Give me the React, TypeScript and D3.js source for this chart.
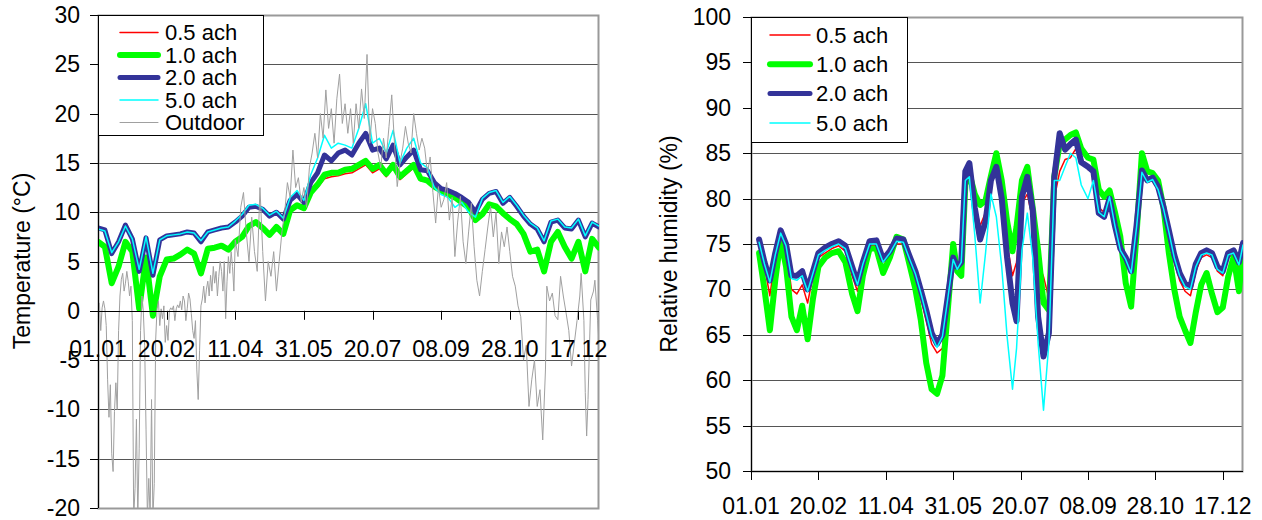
import React from "react";
import * as d3 from "d3";

// ---------- categories / ticks ----------
const xTickDays = [0, 50, 100, 150, 200, 250, 300, 350];
const xTickLabels = ["01.01", "20.02", "11.04", "31.05", "20.07", "08.09", "28.10", "17.12"];
const tempTicks = [-20, -15, -10, -5, 0, 5, 10, 15, 20, 25, 30];
const rhTicks = [50, 55, 60, 65, 70, 75, 80, 85, 90, 95, 100];
const tempLegend = ["0.5 ach", "1.0 ach", "2.0 ach", "5.0 ach", "Outdoor"];
const rhLegend = ["0.5 ach", "1.0 ach", "2.0 ach", "5.0 ach"];

// ---------- temperature (°C), every 5 days from 01.01 ----------
const tempDays = [
  0, 5, 10, 15, 20, 25, 30, 35, 40, 45, 50, 55, 60, 65, 70, 75, 80, 85, 90, 95,
  100, 105, 110, 115, 120, 125, 130, 135, 140, 145, 150, 155, 160, 165, 170, 175, 180, 185, 190, 195,
  200, 205, 210, 215, 220, 225, 230, 235, 240, 245, 250, 255, 260, 265, 270, 275, 280, 285, 290, 295,
  300, 305, 310, 315, 320, 325, 330, 335, 340, 345, 350, 355, 360, 365,
];
const temp05 = [
  7.0, 6.5, 2.8, 4.5, 7.0, 6.0, 0.2, 5.4, -0.5, 3.5,
  5.2, 5.3, 5.7, 6.2, 5.8, 3.8, 6.3, 6.4, 6.6, 6.2,
  7.0, 7.5, 8.6, 9.0, 8.4, 7.7, 8.5, 7.8, 10.2, 10.6,
  10.3, 11.8, 12.5, 13.4, 13.6, 13.7, 13.9, 14.0, 14.4, 14.8,
  14.0, 14.4, 13.6, 14.5, 13.3, 13.9, 14.5, 13.2, 13.2, 12.8,
  12.4, 12.3, 12.0, 11.5, 11.0, 9.8, 9.9, 10.9, 10.7, 10.0,
  9.4, 8.9, 7.9, 6.1, 6.3, 4.1, 7.1, 8.1, 6.6, 5.4,
  7.1, 4.1, 7.4, 6.5,
];
const temp10 = [
  7.0, 6.5, 2.8, 4.5, 7.0, 6.0, 0.2, 5.4, -0.5, 3.5,
  5.2, 5.3, 5.7, 6.2, 5.8, 3.8, 6.3, 6.4, 6.6, 6.2,
  7.0, 7.5, 8.6, 9.0, 8.4, 7.7, 8.5, 7.8, 10.2, 10.7,
  10.4, 12.0, 12.8, 13.8, 14.0, 14.0, 14.3, 14.4, 14.8, 15.2,
  14.4, 14.8, 13.9, 14.8, 13.6, 14.2, 14.8, 13.4, 13.2, 12.6,
  12.2, 11.8, 11.5, 11.0, 10.5, 9.2, 9.8, 10.8, 10.6, 9.9,
  9.3, 8.8, 7.8, 6.0, 6.2, 4.0, 7.0, 8.0, 6.5, 5.3,
  7.0, 4.0, 7.3, 6.4,
];
const temp20 = [
  8.4, 8.2, 5.8, 7.0, 8.7, 7.3, 4.0, 7.4, 3.6, 7.2,
  7.6, 7.7, 7.8, 8.0, 7.9, 7.0, 8.0, 8.2, 8.4, 8.5,
  9.0, 9.6, 10.5, 10.6, 10.3, 9.6, 10.0, 9.3, 11.2, 11.8,
  11.0, 13.0, 14.0, 15.8, 15.2, 16.0, 16.3, 15.8, 17.0, 18.0,
  16.3, 16.5, 15.4, 16.8, 14.8, 15.6, 16.3, 14.3, 14.2, 13.0,
  12.4, 12.2, 11.9, 11.5, 11.0, 10.0, 11.3, 11.9, 12.1, 10.9,
  11.5, 10.6, 9.6, 8.8, 8.3, 7.0, 9.0, 9.2, 8.4, 8.3,
  9.2, 7.5, 8.9, 8.5,
];
const temp50 = [
  8.3, 8.1, 5.9, 7.0, 8.6, 7.3, 4.2, 7.5, 3.8, 7.2,
  7.6, 7.7, 7.8, 8.0, 7.9, 7.1, 8.0, 8.2, 8.4, 8.5,
  9.1, 9.8, 10.7, 10.8, 10.4, 9.7, 10.1, 9.4, 11.5, 12.2,
  11.2, 13.8, 15.5, 17.8, 16.5, 17.0, 16.8, 16.5, 18.5, 21.0,
  17.0, 17.5, 16.0, 18.3, 15.0, 16.5, 17.5, 15.0, 14.5, 12.5,
  11.8, 11.5, 10.5, 11.0, 10.0, 9.5, 11.4, 12.0, 12.2, 11.0,
  11.6, 10.7, 9.7, 8.9, 8.4, 7.1, 9.1, 9.3, 8.5, 8.4,
  9.3, 7.6, 9.0, 8.6,
];

// ---------- outdoor temperature (°C) ----------
const outdoorDays = [
  ...d3.range(0, 101),
  ...d3.range(102, 327, 2),
  327, 329, 331, 333, 335, 337, 339, 341, 343, 345, 347, 349, 351, 352, 354, 355, 356, 357, 359, 361, 362, 364, 365,
];
const outdoorTemp = [
  // 0-100 daily
  0.5, 0.8, -2.0, 0.3, 1.0, 0.2, -1.5, -7.0, -10.8, -7.5,
  -14.5, -16.3, -10.2, -7.3, -10.0, -2.0, 1.5, 3.2, 3.8, 2.0,
  2.8, 4.0, 3.0, 1.5, 2.5, -1.0, -21.0, -18.0, -11.0, -21.0,
  -14.0, -2.0, 1.5, 0.0, -3.5, -12.0, -21.0, -17.0, -21.0, -9.0,
  -21.0, -17.5, -3.0, 0.2, 1.0, -1.5, 0.2, -0.8, 0.5, -3.2,
  -1.5, -3.0, 0.0, 0.3, 0.1, 0.5, -1.0, 0.2, 0.6, 0.3,
  1.0, 0.1, 1.5, 1.0, -1.0, 0.2, 1.8, 1.2, -0.3, -2.0,
  -2.8, -1.0, -6.0, -9.0, -4.0, 0.5, 1.2, 2.5, 0.8, 2.2,
  3.0, 1.5, 3.6, 2.0, 4.5, 2.8, 4.0, 1.5, 3.5, 5.0,
  4.0, 2.0, 5.0, -0.8, 3.0, 5.5, 3.8, 6.0, 4.5, 2.0,
  7.2,
  // 102-326 every 2 days
  5.5, 10.5, 12.0, 8.0, 5.0, 9.5, 6.0, 4.0, 12.5, 6.0,
  1.0, 5.0, 3.5, 6.0, 2.0, 5.0, 8.0, 10.0, 13.0, 11.5,
  16.3, 12.5, 13.5, 11.0, 12.5, 10.5, 14.5, 16.0, 18.0, 15.5,
  20.0, 17.5, 22.4, 18.5, 20.5, 17.0, 21.5, 24.0, 19.0, 21.0,
  18.0, 20.5, 17.0, 21.0, 18.5, 22.5, 19.5, 26.0, 17.0, 20.5,
  19.0, 16.0, 14.5, 17.5, 15.5, 18.7, 21.9, 17.0, 12.6, 15.0,
  16.5, 18.7, 17.0, 16.0, 20.0, 18.0, 16.3, 17.5, 16.5, 14.0,
  15.6, 12.0, 8.9, 12.6, 10.5, 11.3, 13.0, 9.2, 11.5, 5.5,
  9.0, 11.6, 7.0, 4.8, 8.0, 10.9, 6.5, 3.1, 1.5, 4.0,
  6.2, 8.5, 10.6, 7.5, 10.0, 4.8, 8.0, 6.5, 8.5, 6.0,
  3.5, 2.5, 0.5, -0.6, -5.0, -3.5, -9.7, -7.0, -5.0, -9.7,
  -8.0, -13.1, -6.0,
  // late
  2.5, 1.0, 1.8, -0.5, -0.9, 3.5, 1.5, -0.2, -2.0, -5.6, -3.3, -1.0, 1.5, 3.8, -1.0, -8.3, -12.7, -9.0, 1.1, 2.0, 3.1, -1.0, -3.3,
];

// ---------- relative humidity (%) ----------
const rhDays = [
  6, 10, 14, 18, 22, 26, 30, 34, 38, 42, 46, 50, 55, 60, 65, 70, 75, 79, 83, 88,
  93, 98, 103, 108, 113, 118, 122, 126, 130, 134, 138, 142, 146, 150, 153, 156, 159, 162, 166, 170,
  174, 178, 182, 186, 190, 194, 197, 201, 205, 209, 213, 217, 221, 225, 229, 233, 237, 241, 245, 250,
  254, 258, 262, 266, 270, 274, 278, 282, 286, 290, 294, 298, 302, 306, 310, 314, 318, 322, 326, 330,
  334, 338, 342, 346, 350, 354, 358, 362, 365,
];
const rh05 = [
  75.0, 72.5, 69.3, 73.5, 76.0, 74.5, 70.0, 69.5, 70.5, 68.5,
  71.5, 73.5, 74.0, 74.5, 74.8, 74.2, 71.5, 69.8, 72.5, 74.8,
  74.8, 72.5, 73.8, 75.0, 75.0, 73.0, 71.5, 69.0, 66.5, 64.0,
  63.0, 63.5, 68.8, 73.5, 72.3, 72.8, 82.5, 83.5, 79.5, 77.0,
  78.5, 82.0, 83.8, 80.5, 75.0, 71.5, 73.0, 79.5, 80.5, 77.6,
  73.0, 71.4, 69.0, 80.0, 83.0, 84.3, 84.5, 85.5, 84.5, 83.2,
  83.0, 79.0, 78.5, 80.2, 77.5, 75.0, 73.0, 71.8, 76.5, 82.8,
  81.8, 82.0, 81.0, 78.8, 76.0, 73.0, 71.0, 69.8, 69.3, 72.0,
  73.5, 73.8, 73.5, 72.0, 71.5, 73.6, 73.8, 72.5, 74.8,
];
const rh10 = [
  74.0, 70.0, 65.5, 71.0, 75.5, 72.5, 67.0, 65.5, 68.2, 64.5,
  69.0, 72.5, 73.5, 74.0, 74.2, 73.0, 69.5, 67.6, 71.5, 74.5,
  74.5, 71.8, 73.5, 75.8, 75.5, 72.5, 70.0, 66.6, 61.9, 59.0,
  58.5, 60.5, 67.7, 75.0, 72.0, 71.5, 81.5, 82.8, 80.5, 79.3,
  79.8, 82.5, 85.0, 82.0, 77.5, 74.2, 76.9, 82.0, 83.5, 79.0,
  74.3, 68.5, 67.7, 82.4, 86.0, 86.5, 87.0, 87.3, 85.5, 84.5,
  84.3, 81.0, 80.2, 80.9, 78.5, 75.8, 70.7, 68.1, 76.0, 85.0,
  83.0, 82.8, 82.0, 79.0, 74.0, 70.0, 67.0, 65.5, 64.1, 67.5,
  70.5, 71.8, 69.5, 67.5, 68.0, 71.4, 73.6, 69.8, 74.3,
];
const rh20 = [
  75.5, 73.0, 71.0, 74.0, 76.5, 75.0, 71.5, 71.5, 72.0, 70.0,
  72.0, 74.0, 74.6, 75.0, 75.3, 74.8, 72.5, 70.7, 73.0, 75.3,
  75.4, 73.3, 74.2, 75.6, 75.5, 73.5, 72.0, 69.9, 67.7, 65.2,
  64.0, 65.0, 69.2, 73.5, 72.5, 73.0, 83.0, 83.9, 79.0, 75.5,
  77.5, 82.0, 83.5, 80.0, 73.5, 68.5, 66.5, 80.2, 82.4, 78.7,
  67.0, 62.6, 65.2, 82.4, 87.2, 85.4, 86.0, 86.5, 84.0, 83.5,
  83.0, 78.4, 78.0, 80.0, 77.0, 74.5, 73.5, 72.0, 77.0, 83.1,
  82.0, 82.3, 81.3, 79.1, 76.5, 73.8, 71.8, 70.6, 70.3, 72.8,
  74.0, 74.3, 74.0, 72.5, 72.0, 74.0, 74.3, 73.0, 75.1,
];
const rh50 = [
  75.2, 72.8, 70.8, 73.8, 76.2, 74.8, 71.2, 71.0, 71.5, 69.8,
  71.8, 73.8, 74.3, 74.7, 75.0, 74.5, 72.2, 70.5, 72.8, 75.0,
  75.0, 73.0, 74.0, 75.3, 75.2, 73.2, 71.7, 69.6, 67.3, 64.9,
  63.6, 64.8, 69.0, 73.3, 72.2, 73.0, 82.0, 82.4, 76.0, 68.5,
  74.0, 80.5, 78.0, 72.5, 64.8, 59.0, 63.5, 74.3, 78.4, 73.5,
  64.1, 56.7, 64.1, 82.0, 82.0, 83.5, 85.0, 84.5, 81.5, 80.0,
  82.0, 78.5, 78.0, 80.2, 77.0, 74.3, 73.3, 71.8, 76.8, 82.9,
  81.8, 82.1, 81.0, 78.9, 76.3, 73.5, 71.5, 70.3, 70.0, 72.5,
  73.8, 74.0, 73.8, 72.2, 71.8, 73.8, 74.0, 72.7, 74.9,
];

const FONT = "'Liberation Sans', Arial, Helvetica, sans-serif";
const COLORS = ["#ff0000", "#00ff00", "#333399", "#00ffff", "#a0a0a0"];
const WIDTHS = [1.5, 6, 5, 1.5, 1];

export default function App() {
  const xL = d3.scaleLinear().domain([0, 365]).range([98, 599]);
  const yL = d3.scaleLinear().domain([-20, 30]).range([508, 15]);
  const xR = d3.scaleLinear().domain([0, 365]).range([751, 1243]);
  const yR = d3.scaleLinear().domain([50, 100]).range([471, 17]);

  const mkLine = (xs: d3.ScaleLinear<number, number>, ys: d3.ScaleLinear<number, number>, days: number[]) =>
    d3.line<number>().x((_, i) => xs(days[i])).y((v) => ys(v));

  const tempSeries = [temp05, temp10, temp20, temp50];
  const rhSeries = [rh05, rh10, rh20, rh50];
  const px = (v: number) => Math.round(v) + 0.5;

  return (
    <svg width={1262} height={520} style={{ position: "absolute", left: 0, top: 0, fontFamily: FONT }}>
      <defs>
        <clipPath id="clipL"><rect x={98} y={15} width={501} height={493} /></clipPath>
        <clipPath id="clipR"><rect x={751} y={17} width={492} height={454} /></clipPath>
      </defs>
      <rect x={0} y={0} width={1262} height={520} fill="#fff" />

      {/* ---------- LEFT: temperature ---------- */}
      {tempTicks.slice(1, -1).map((t) => (
        <line key={"gl" + t} x1={98} x2={599} y1={px(yL(t))} y2={px(yL(t))} stroke="#555" strokeWidth={1} />
      ))}
      <rect x={98.5} y={px(yL(30))} width={500} height={px(yL(-20)) - px(yL(30))} fill="none" stroke="#999" strokeWidth={2} />
      <g clipPath="url(#clipL)" fill="none" strokeLinejoin="round" strokeLinecap="round">
        {tempSeries.map((s, k) => (
          <path key={"tl" + k} d={mkLine(xL, yL, tempDays)(s) || ""} stroke={COLORS[k]} strokeWidth={WIDTHS[k]} />
        ))}
        <path d={mkLine(xL, yL, outdoorDays)(outdoorTemp) || ""} stroke={COLORS[4]} strokeWidth={1} />
      </g>
      <line x1={98.5} x2={98.5} y1={15} y2={508} stroke="#000" />
      <line x1={98} x2={599} y1={px(yL(0))} y2={px(yL(0))} stroke="#000" />
      {tempTicks.map((t) => (
        <g key={"tt" + t}>
          <line x1={90} x2={98} y1={px(yL(t))} y2={px(yL(t))} stroke="#000" />
          <text x={80} y={yL(t)} dy="0.35em" textAnchor="end" fontSize={23} fill="#000">{t}</text>
        </g>
      ))}
      {xTickDays.map((d, i) => (
        <g key={"xt" + d}>
          <line x1={px(xL(d))} x2={px(xL(d))} y1={yL(0)} y2={yL(0) + 9} stroke="#000" />
          <text x={xL(d)} y={348.5} dy="0.35em" textAnchor="middle" fontSize={23} fill="#000">{xTickLabels[i]}</text>
        </g>
      ))}
      <text transform={`translate(30,261) rotate(-90)`} textAnchor="middle" fontSize={23} fill="#000">Temperature (°C)</text>

      {/* legend left */}
      <rect x={98.5} y={15.5} width={165} height={120} fill="#fff" stroke="#000" />
      {tempLegend.map((name, i) => {
        const y = 32.5 + i * 22.5;
        return (
          <g key={"lgL" + i}>
            <line x1={120} x2={158} y1={y} y2={y} stroke={COLORS[i]} strokeWidth={WIDTHS[i]} strokeLinecap="round" />
            <text x={165} y={y} dy="0.35em" fontSize={22} fill="#000">{name}</text>
          </g>
        );
      })}

      {/* ---------- RIGHT: relative humidity ---------- */}
      {rhTicks.slice(1, -1).map((t) => (
        <line key={"gr" + t} x1={751} x2={1243} y1={px(yR(t))} y2={px(yR(t))} stroke="#555" strokeWidth={1} />
      ))}
      <rect x={751.5} y={px(yR(100))} width={491} height={px(yR(50)) - px(yR(100))} fill="none" stroke="#999" strokeWidth={2} />
      <g clipPath="url(#clipR)" fill="none" strokeLinejoin="round" strokeLinecap="round">
        {rhSeries.map((s, k) => (
          <path key={"rl" + k} d={mkLine(xR, yR, rhDays)(s) || ""} stroke={COLORS[k]} strokeWidth={k === 2 ? 6 : WIDTHS[k]} />
        ))}
      </g>
      <line x1={751.5} x2={751.5} y1={17} y2={471} stroke="#000" />
      <line x1={751} x2={1243} y1={px(yR(50))} y2={px(yR(50))} stroke="#000" />
      {rhTicks.map((t) => (
        <g key={"rt" + t}>
          <line x1={743} x2={751} y1={px(yR(t))} y2={px(yR(t))} stroke="#000" />
          <text x={731} y={yR(t)} dy="0.35em" textAnchor="end" fontSize={23} fill="#000">{t}</text>
        </g>
      ))}
      {xTickDays.map((d, i) => (
        <g key={"xr" + d}>
          <line x1={px(xR(d))} x2={px(xR(d))} y1={471} y2={480} stroke="#000" />
          <text x={xR(d)} y={506} dy="0.35em" textAnchor="middle" fontSize={23} fill="#000">{xTickLabels[i]}</text>
        </g>
      ))}
      <text transform={`translate(677,244) rotate(-90)`} textAnchor="middle" fontSize={23} fill="#000">Relative humidity (%)</text>

      {/* legend right */}
      <rect x={751.5} y={17.5} width={156} height={125} fill="#fff" stroke="#000" />
      {rhLegend.map((name, i) => {
        const y = 35 + i * 29.3;
        return (
          <g key={"lgR" + i}>
            <line x1={770} x2={810} y1={y} y2={y} stroke={COLORS[i]} strokeWidth={WIDTHS[i]} strokeLinecap="round" />
            <text x={816} y={y} dy="0.35em" fontSize={22} fill="#000">{name}</text>
          </g>
        );
      })}
    </svg>
  );
}
